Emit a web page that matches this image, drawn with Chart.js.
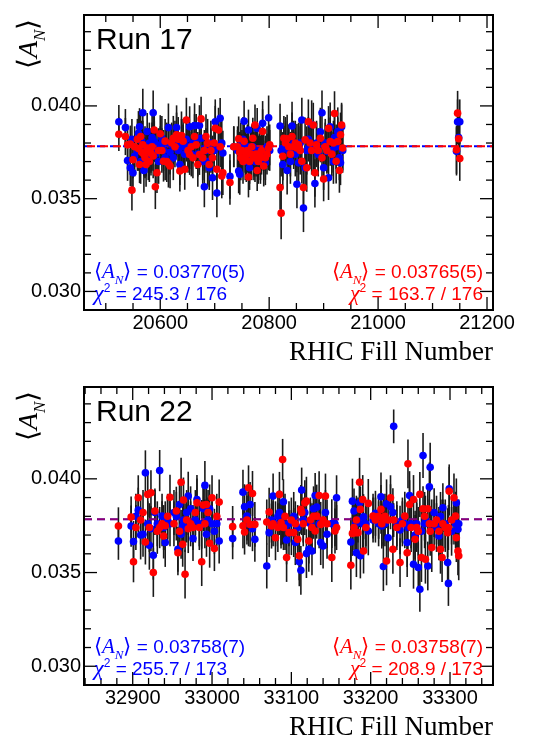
<!DOCTYPE html>
<html>
<head>
<meta charset="utf-8">
<script src="https://cdn.jsdelivr.net/npm/chart.js@4.4.1/dist/chart.umd.min.js"></script>
<style>
  body { margin: 0; background: #fff; }
  .panel { position: absolute; left: 0; width: 534px; }
  canvas { display: block; }
</style>
</head>
<body>
<div class="panel" style="top:0;height:370px"><canvas id="run17" width="534" height="370"></canvas></div>
<div class="panel" style="top:370px;height:369px"><canvas id="run22" width="534" height="369"></canvas></div>
<script>
// ---- Run 17 ----
const fills17 = [
  20524, 20536, 20540, 20545, 20548, 20550, 20553, 20558, 20560, 20562,
  20564, 20566, 20568, 20570, 20572, 20574, 20576, 20578, 20580, 20583,
  20585, 20587, 20589, 20591, 20594, 20597, 20600, 20603, 20606, 20609,
  20612, 20615, 20618, 20621, 20624, 20627, 20630, 20633, 20636, 20639,
  20642, 20645, 20648, 20651, 20654, 20657, 20660, 20663, 20666, 20669,
  20672, 20675, 20678, 20681, 20684, 20687, 20690, 20693, 20696, 20699,
  20701, 20704, 20707, 20710, 20713, 20715, 20728, 20735, 20742, 20744,
  20746, 20748, 20750, 20752, 20754, 20756, 20758, 20760, 20762, 20764,
  20766, 20768, 20770, 20772, 20774, 20776, 20778, 20780, 20782, 20784,
  20786, 20788, 20790, 20793, 20796, 20799, 20801, 20820, 20822, 20825,
  20827, 20830, 20833, 20836, 20839, 20842, 20845, 20848, 20851, 20854,
  20857, 20860, 20863, 20866, 20869, 20872, 20875, 20878, 20881, 20884,
  20887, 20890, 20894, 20897, 20900, 20903, 20906, 20909, 20912, 20915,
  20918, 20920, 20923, 20926, 20929, 20931, 20933, 20935, 21144, 21146,
  21148, 21150
];
const blue17 = [
  0.03915, 0.03883, 0.03706, 0.03667, 0.03820, 0.03640, 0.03730, 0.03760, 0.03852, 0.03888,
  0.03700, 0.03810, 0.03963, 0.03652, 0.03780, 0.03740, 0.03862, 0.03720, 0.03800, 0.03760,
  0.03830, 0.03963, 0.03808, 0.03740, 0.03759, 0.03700, 0.03790, 0.03826, 0.03760, 0.03720,
  0.03800, 0.03883, 0.03750, 0.03790, 0.03720, 0.03810, 0.03883, 0.03760, 0.03684, 0.03800,
  0.03780, 0.03740, 0.03820, 0.03780, 0.03888, 0.03740, 0.03800, 0.03894, 0.03826, 0.03740,
  0.03894, 0.03826, 0.03700, 0.03564, 0.03760, 0.03700, 0.03667, 0.03800, 0.03613, 0.03760,
  0.03915, 0.03530, 0.03780, 0.03933, 0.03800, 0.03746, 0.03620, 0.03780, 0.03760, 0.03649,
  0.03631, 0.03790, 0.03740, 0.03820, 0.03918, 0.03760, 0.03700, 0.03780, 0.03870, 0.03667,
  0.03760, 0.03720, 0.03780, 0.03740, 0.03700, 0.03760, 0.03879, 0.03720, 0.03760, 0.03700,
  0.03740, 0.03906, 0.03760, 0.03693, 0.03780, 0.03936, 0.03760, 0.03892, 0.03760, 0.03684,
  0.03773, 0.03820, 0.03652, 0.03760, 0.03700, 0.03892, 0.03800, 0.03740, 0.03578, 0.03693,
  0.03800, 0.03924, 0.03450, 0.03667, 0.03760, 0.03820, 0.03780, 0.03900, 0.03760, 0.03582,
  0.03800, 0.03740, 0.03860, 0.03963, 0.03667, 0.03800, 0.03755, 0.03613, 0.03888, 0.03760,
  0.03700, 0.03830, 0.03780, 0.03862, 0.03720, 0.03693, 0.03888, 0.03760, 0.03755, 0.03915,
  0.03830, 0.03915
];
const red17 = [
  0.03847, 0.03835, 0.03790, 0.03794, 0.03546, 0.03710, 0.03780, 0.03820, 0.03770, 0.03684,
  0.03835, 0.03750, 0.03790, 0.03740, 0.03720, 0.03684, 0.03773, 0.03760, 0.03700, 0.03745,
  0.03780, 0.03730, 0.03870, 0.03564, 0.03640, 0.03760, 0.03850, 0.03760, 0.03702, 0.03810,
  0.03700, 0.03690, 0.03676, 0.03800, 0.03826, 0.03780, 0.03844, 0.03820, 0.03649, 0.03840,
  0.03810, 0.03658, 0.03924, 0.03760, 0.03738, 0.03780, 0.03720, 0.03835, 0.03790, 0.03684,
  0.03738, 0.03930, 0.03720, 0.03760, 0.03835, 0.03800, 0.03684, 0.03760, 0.03720, 0.03800,
  0.03880, 0.03658, 0.03870, 0.03780, 0.03622, 0.03640, 0.03587, 0.03780, 0.03780, 0.03823,
  0.03750, 0.03720, 0.03760, 0.03700, 0.03809, 0.03720, 0.03740, 0.03760, 0.03617, 0.03700,
  0.03740, 0.03780, 0.03826, 0.03720, 0.03897, 0.03740, 0.03652, 0.03700, 0.03740, 0.03720,
  0.03760, 0.03862, 0.03676, 0.03720, 0.03740, 0.03773, 0.03790, 0.03560, 0.03422, 0.03729,
  0.03826, 0.03800, 0.03823, 0.03780, 0.03740, 0.03835, 0.03780, 0.03800, 0.03773, 0.03790,
  0.03760, 0.03702, 0.03560, 0.03817, 0.03667, 0.03915, 0.03800, 0.03760, 0.03897, 0.03640,
  0.03790, 0.03760, 0.03826, 0.03720, 0.03606, 0.03780, 0.03760, 0.03879, 0.03808, 0.03740,
  0.03800, 0.03959, 0.03702, 0.03808, 0.03652, 0.03844, 0.03897, 0.03773, 0.03764, 0.03961,
  0.03823, 0.03716
];
const err17 = [
  0.0009, 0.0010, 0.0011, 0.0010, 0.0011, 0.0010, 0.0011, 0.0011, 0.0012, 0.0010,
  0.0012, 0.0011, 0.0013, 0.0012, 0.0011, 0.0012, 0.0010, 0.0012, 0.0011, 0.0012,
  0.0013, 0.0012, 0.0011, 0.0012, 0.0011, 0.0012, 0.0010, 0.0012, 0.0011, 0.0012,
  0.0011, 0.0013, 0.0012, 0.0011, 0.0012, 0.0011, 0.0012, 0.0012, 0.0011, 0.0013,
  0.0012, 0.0011, 0.0012, 0.0012, 0.0011, 0.0012, 0.0011, 0.0012, 0.0013, 0.0012,
  0.0011, 0.0012, 0.0012, 0.0011, 0.0012, 0.0013, 0.0012, 0.0012, 0.0012, 0.0011,
  0.0012, 0.0013, 0.0012, 0.0011, 0.0012, 0.0012, 0.0012, 0.0011, 0.0011, 0.0012,
  0.0011, 0.0012, 0.0011, 0.0012, 0.0011, 0.0012, 0.0011, 0.0012, 0.0011, 0.0012,
  0.0011, 0.0012, 0.0011, 0.0012, 0.0011, 0.0012, 0.0011, 0.0012, 0.0011, 0.0012,
  0.0011, 0.0012, 0.0011, 0.0012, 0.0011, 0.0012, 0.0011, 0.0012, 0.0014, 0.0013,
  0.0012, 0.0012, 0.0013, 0.0012, 0.0012, 0.0013, 0.0012, 0.0012, 0.0013, 0.0012,
  0.0013, 0.0012, 0.0013, 0.0012, 0.0013, 0.0012, 0.0012, 0.0013, 0.0012, 0.0013,
  0.0012, 0.0012, 0.0013, 0.0012, 0.0012, 0.0013, 0.0012, 0.0012, 0.0013, 0.0012,
  0.0012, 0.0012, 0.0012, 0.0013, 0.0012, 0.0012, 0.0012, 0.0012, 0.0013, 0.0012,
  0.0011, 0.0012
];
const xTicks17 = [20600, 20800, 21000, 21200];
const mean17 = [0.03782, 0.03782]; // blue, red dashed lines as drawn
const text17Blue = ['0.03770(5)', '245.3 / 176'];
const text17Red = ['0.03765(5)', '163.7 / 176'];

// ---- Run 22 ----
const fills22 = [
  32882, 32898, 32901, 32904, 32907, 32910, 32913, 32916, 32919, 32921,
  32923, 32926, 32928, 32931, 32934, 32937, 32939, 32941, 32944, 32947,
  32952, 32955, 32957, 32959, 32961, 32963, 32964, 32966, 32968, 32970,
  32973, 32976, 32979, 32981, 32984, 32987, 32989, 32991, 32993, 32995,
  32997, 33000, 33003, 33006, 33009, 33026, 33039, 33041, 33044, 33046,
  33048, 33051, 33054, 33069, 33072, 33075, 33077, 33080, 33083, 33085,
  33087, 33089, 33090, 33092, 33094, 33097, 33100, 33103, 33105, 33108,
  33110, 33112, 33113, 33115, 33117, 33119, 33122, 33124, 33126, 33128,
  33130, 33132, 33135, 33137, 33140, 33143, 33145, 33151, 33155, 33157,
  33175, 33177, 33179, 33181, 33182, 33184, 33186, 33187, 33190, 33191,
  33194, 33197, 33203, 33206, 33210, 33213, 33214, 33216, 33218, 33220,
  33222, 33225, 33228, 33229, 33233, 33237, 33240, 33243, 33246, 33247,
  33249, 33251, 33254, 33256, 33258, 33260, 33262, 33264, 33266, 33268,
  33269, 33272, 33274, 33275, 33277, 33280, 33283, 33286, 33288, 33290,
  33291, 33294, 33297, 33298, 33299, 33302, 33305, 33307, 33308, 33310,
  33311
];
const blue22 = [
  0.03668, 0.03748, 0.03665, 0.03800, 0.03833, 0.03700, 0.03704, 0.04032, 0.03760, 0.03645,
  0.03734, 0.03592, 0.03820, 0.03760, 0.04044, 0.03801, 0.03740, 0.03660, 0.03780, 0.03760,
  0.03820, 0.03801, 0.03624, 0.03863, 0.03704, 0.03748, 0.03780, 0.03740, 0.03820, 0.03908,
  0.03840, 0.03681, 0.03780, 0.03890, 0.03760, 0.03757, 0.03840, 0.03965, 0.03704, 0.03780,
  0.03840, 0.03760, 0.03720, 0.03760, 0.03668, 0.03681, 0.03929, 0.03851, 0.03801, 0.03760,
  0.03863, 0.03734, 0.03677, 0.03535, 0.03713, 0.03780, 0.03908, 0.03760, 0.03800, 0.03820,
  0.03748, 0.03760, 0.03878, 0.03740, 0.03674, 0.03760, 0.03713, 0.03800, 0.03660, 0.03740,
  0.03557, 0.03512, 0.03940, 0.03780, 0.03820, 0.03601, 0.03624, 0.03760, 0.03615, 0.03840,
  0.03911, 0.03849, 0.03760, 0.03660, 0.03642, 0.03820, 0.03704, 0.03761, 0.03760, 0.03899,
  0.03663, 0.03881, 0.03828, 0.03760, 0.03606, 0.03780, 0.03872, 0.03589, 0.03760, 0.03798,
  0.03760, 0.03722, 0.03780, 0.03816, 0.03760, 0.03904, 0.03748, 0.03532, 0.03760, 0.03867,
  0.03686, 0.03851, 0.03820, 0.04280, 0.03760, 0.03727, 0.03780, 0.03760, 0.03660, 0.03740,
  0.03911, 0.03760, 0.03544, 0.03700, 0.03760, 0.03527, 0.03411, 0.03720, 0.04124, 0.03760,
  0.03780, 0.03535, 0.03957, 0.04062, 0.03760, 0.03820, 0.03740, 0.03695, 0.03800, 0.03760,
  0.03846, 0.03760, 0.03553, 0.03442, 0.03947, 0.03720, 0.03780, 0.03760, 0.03872, 0.03731,
  0.03760
];
const red22 = [
  0.03748, 0.03796, 0.03558, 0.03740, 0.03899, 0.03780, 0.03820, 0.03663, 0.03917, 0.03740,
  0.03926, 0.03500, 0.03828, 0.03720, 0.03740, 0.03760, 0.03695, 0.03750, 0.03800, 0.03902,
  0.03760, 0.03828, 0.03606, 0.03720, 0.03982, 0.03651, 0.03887, 0.03491, 0.03780, 0.03734,
  0.03760, 0.03740, 0.03820, 0.03872, 0.03740, 0.03558, 0.03860, 0.03760, 0.03863, 0.03820,
  0.03656, 0.03899, 0.03628, 0.03800, 0.03876, 0.03745, 0.03750, 0.03716, 0.03780, 0.03952,
  0.03757, 0.03922, 0.03757, 0.03770, 0.03823, 0.03748, 0.03760, 0.03686, 0.03740, 0.03917,
  0.03766, 0.04103, 0.03740, 0.03800, 0.03580, 0.03713, 0.03780, 0.03713, 0.03760, 0.03677,
  0.03589, 0.03837, 0.03820, 0.03760, 0.03872, 0.03881, 0.03668, 0.03780, 0.03740, 0.03800,
  0.03722, 0.03801, 0.03911, 0.03757, 0.03780, 0.03908, 0.03760, 0.03580, 0.03722, 0.03740,
  0.03539, 0.03709, 0.03740, 0.03713, 0.03780, 0.03713, 0.03982, 0.03837, 0.03890, 0.03615,
  0.03740, 0.03869, 0.03801, 0.03780, 0.03800, 0.03837, 0.03760, 0.03780, 0.03800, 0.03562,
  0.03780, 0.03899, 0.03624, 0.03780, 0.03740, 0.03553, 0.03760, 0.03801, 0.03606, 0.04080,
  0.03863, 0.03740, 0.03890, 0.03677, 0.03740, 0.03720, 0.03917, 0.03580, 0.03840, 0.03800,
  0.03571, 0.03840, 0.03760, 0.03720, 0.03633, 0.03760, 0.03780, 0.03720, 0.03624, 0.03580,
  0.03760, 0.03740, 0.03713, 0.03740, 0.03934, 0.03780, 0.03899, 0.03801, 0.03686, 0.03615,
  0.03589
];
const err22 = [
  0.0010, 0.0011, 0.0011, 0.0012, 0.0012, 0.0013, 0.0012, 0.0012, 0.0012, 0.0013,
  0.0012, 0.0013, 0.0012, 0.0012, 0.0011, 0.0012, 0.0012, 0.0013, 0.0012, 0.0012,
  0.0012, 0.0013, 0.0012, 0.0013, 0.0013, 0.0012, 0.0012, 0.0013, 0.0012, 0.0013,
  0.0012, 0.0012, 0.0012, 0.0013, 0.0012, 0.0013, 0.0012, 0.0013, 0.0012, 0.0012,
  0.0013, 0.0012, 0.0012, 0.0012, 0.0012, 0.0011, 0.0012, 0.0012, 0.0013, 0.0012,
  0.0012, 0.0012, 0.0012, 0.0012, 0.0013, 0.0012, 0.0012, 0.0012, 0.0013, 0.0012,
  0.0012, 0.0011, 0.0012, 0.0012, 0.0013, 0.0012, 0.0012, 0.0013, 0.0012, 0.0012,
  0.0013, 0.0013, 0.0012, 0.0012, 0.0012, 0.0013, 0.0012, 0.0012, 0.0013, 0.0012,
  0.0012, 0.0012, 0.0013, 0.0012, 0.0012, 0.0012, 0.0013, 0.0013, 0.0012, 0.0012,
  0.0013, 0.0012, 0.0012, 0.0012, 0.0013, 0.0012, 0.0013, 0.0012, 0.0013, 0.0012,
  0.0012, 0.0013, 0.0012, 0.0012, 0.0012, 0.0013, 0.0012, 0.0013, 0.0012, 0.0013,
  0.0012, 0.0012, 0.0013, 0.0009, 0.0012, 0.0013, 0.0012, 0.0013, 0.0013, 0.0013,
  0.0013, 0.0013, 0.0013, 0.0013, 0.0013, 0.0013, 0.0012, 0.0013, 0.0012, 0.0013,
  0.0013, 0.0013, 0.0013, 0.0013, 0.0013, 0.0013, 0.0013, 0.0013, 0.0013, 0.0013,
  0.0013, 0.0013, 0.0013, 0.0012, 0.0013, 0.0013, 0.0013, 0.0013, 0.0013, 0.0013,
  0.0013
];
const xTicks22 = [32900, 33000, 33100, 33200, 33300];
const mean22 = [0.03785, 0.03785];
const text22Blue = ['0.03758(7)', '255.7 / 173'];
const text22Red = ['0.03758(7)', '208.9 / 173'];

const yTicks = [0.030, 0.035, 0.040];

const SANS = '"Liberation Sans", Arial, sans-serif';
const SERIF = '"Liberation Serif", "Times New Roman", serif';
const BLUE = '#0000ff';
const RED = '#ff0000';

function pts(xs, ys) {
  return xs.map((x, i) => ({ x: x, y: ys[i] }));
}

// draws a list of text pieces with their own fonts one after another
function drawRich(ctx, parts, x, y, align) {
  let total = 0;
  parts.forEach(p => { ctx.font = p.font; total += ctx.measureText(p.text).width; });
  let cx = align === 'right' ? x - total : x;
  parts.forEach(p => {
    ctx.font = p.font;
    ctx.fillText(p.text, cx, y + (p.dy || 0));
    cx += ctx.measureText(p.text).width;
  });
}

function anParts(size) {
  return [
    { text: '\u27E8', font: size + 'px ' + SERIF },
    { text: 'A', font: 'italic ' + size + 'px ' + SERIF },
    { text: 'N', font: 'italic ' + Math.round(size * 0.62) + 'px ' + SERIF, dy: size * 0.28 },
    { text: '\u27E9', font: size + 'px ' + SERIF }
  ];
}

function statLines(ctx, vals, x, y0, align) {
  drawRich(ctx, anParts(21).concat([{ text: ' = ' + vals[0], font: '19px ' + SANS }]), x, y0, align);
  drawRich(ctx, [
    { text: '\u03C7', font: 'italic 22px ' + SERIF },
    { text: '2', font: '12px ' + SANS, dy: -8 },
    { text: ' = ' + vals[1], font: '19px ' + SANS }
  ], x, y0 + 22, align);
}

function errorBarPlugin(p) {
  return {
    id: 'errorBars',
    beforeDatasetsDraw(chart) {
      const { ctx, chartArea, scales: { x, y } } = chart;
      ctx.save();
      ctx.beginPath();
      ctx.rect(chartArea.left, chartArea.top, chartArea.right - chartArea.left, chartArea.bottom - chartArea.top);
      ctx.clip();
      ctx.strokeStyle = '#1a1a1a';
      ctx.lineWidth = 1.6;
      [p.blue, p.red].forEach(vals => {
        vals.forEach((v, i) => {
          const px = x.getPixelForValue(p.fills[i]);
          ctx.beginPath();
          ctx.moveTo(px, y.getPixelForValue(v - p.err[i]));
          ctx.lineTo(px, y.getPixelForValue(v + p.err[i]));
          ctx.stroke();
        });
      });
      ctx.restore();
    }
  };
}

function decorPlugin(p) {
  return {
    id: 'decor',
    afterDraw(chart) {
      const { ctx, chartArea: a, scales: { x, y } } = chart;
      ctx.save();
      // ticks on all four sides, pointing inwards
      ctx.strokeStyle = '#000';
      ctx.lineWidth = 1.3;
      const tick = (x1, y1, x2, y2) => { ctx.beginPath(); ctx.moveTo(x1, y1); ctx.lineTo(x2, y2); ctx.stroke(); };
      for (let v = Math.ceil(p.xMin / p.xMinor) * p.xMinor; v <= p.xMax; v += p.xMinor) {
        const px = x.getPixelForValue(v);
        const len = v % p.xMajor === 0 ? 13 : 7;
        tick(px, a.bottom, px, a.bottom - len);
        tick(px, a.top, px, a.top + len);
      }
      for (let k = 29; k <= 44; k++) {
        const py = y.getPixelForValue(k / 1000);
        const len = k % 5 === 0 ? 13 : 7;
        tick(a.left, py, a.left + len, py);
        tick(a.right, py, a.right - len, py);
      }
      // frame
      ctx.lineWidth = 2;
      ctx.strokeRect(a.left, a.top, a.right - a.left, a.bottom - a.top);

      // run label
      ctx.fillStyle = '#000';
      ctx.textBaseline = 'alphabetic';
      ctx.font = '30px ' + SANS;
      ctx.textAlign = 'left';
      ctx.fillText(p.title, a.left + 12, a.top + 34);

      // x title
      ctx.font = '27px ' + SERIF;
      ctx.textAlign = 'right';
      ctx.fillText('RHIC Fill Number', a.right, a.bottom + 50);
      ctx.textAlign = 'left';

      // y title, rotated
      ctx.save();
      ctx.translate(37, a.top + 54);
      ctx.rotate(-Math.PI / 2);
      drawRich(ctx, anParts(28), 0, 0, 'left');
      ctx.restore();

      // fit results
      ctx.fillStyle = BLUE;
      statLines(ctx, p.textBlue, a.left + 10, a.bottom - 32, 'left');
      ctx.fillStyle = RED;
      statLines(ctx, p.textRed, a.right - 10, a.bottom - 32, 'right');
      ctx.restore();
    }
  };
}

function makePanel(p) {
  const canvas = document.getElementById(p.id);
  const W = canvas.width, H = canvas.height;
  const lineDs = (mean, color, offset) => ({
    data: [{ x: p.xMin, y: mean }, { x: p.xMax, y: mean }],
    showLine: true,
    borderColor: color,
    borderWidth: 2,
    borderDash: [8, 5],
    borderDashOffset: offset,
    pointRadius: 0
  });
  return new Chart(canvas, {
    type: 'scatter',
    data: {
      datasets: [
        { data: pts(p.fills, p.red), pointBackgroundColor: RED, backgroundColor: RED, pointBorderWidth: 0, pointRadius: 3.8 },
        { data: pts(p.fills, p.blue), pointBackgroundColor: BLUE, backgroundColor: BLUE, pointBorderWidth: 0, pointRadius: 3.8 },
        lineDs(p.mean[1], p.redLine, p.dashOffset),
        lineDs(p.mean[0], BLUE, 0)
      ]
    },
    options: {
      responsive: false,
      animation: false,
      devicePixelRatio: 1,
      layout: { padding: { top: p.top, right: W - 493, left: 0, bottom: 0 } },
      plugins: { legend: { display: false }, tooltip: { enabled: false } },
      scales: {
        x: {
          type: 'linear',
          min: p.xMin,
          max: p.xMax,
          afterFit: s => { s.height = H - p.bottom; },
          afterBuildTicks: s => { s.ticks = p.xTicks.map(v => ({ value: v })); },
          ticks: { callback: v => String(v), font: { family: SANS, size: 20 }, color: '#000', padding: 1, maxRotation: 0, autoSkip: false },
          grid: { display: false, drawTicks: false },
          border: { display: false }
        },
        y: {
          min: 0.0290,
          max: 0.0449,
          afterFit: s => { s.width = 84; },
          afterBuildTicks: s => { s.ticks = yTicks.map(v => ({ value: v })); },
          ticks: { callback: v => v.toFixed(3), font: { family: SANS, size: 20 }, color: '#000', padding: 3 },
          grid: { display: false, drawTicks: false },
          border: { display: false }
        }
      }
    },
    plugins: [errorBarPlugin(p), decorPlugin(p)]
  });
}

makePanel({
  id: 'run17', title: 'Run 17', fills: fills17, blue: blue17, red: red17, err: err17,
  xMin: 20460, xMax: 21211, xTicks: xTicks17, xMajor: 200, xMinor: 50,
  mean: mean17, redLine: RED, dashOffset: -3, top: 13, bottom: 310,
  textBlue: text17Blue, textRed: text17Red
});
makePanel({
  id: 'run22', title: 'Run 22', fills: fills22, blue: blue22, red: red22, err: err22,
  xMin: 32838.6, xMax: 33354.2, xTicks: xTicks22, xMajor: 100, xMinor: 20,
  mean: mean22, redLine: 'rgba(255,0,0,0.55)', dashOffset: 0, top: 17, bottom: 315,
  textBlue: text22Blue, textRed: text22Red
});
</script>
</body>
</html>
